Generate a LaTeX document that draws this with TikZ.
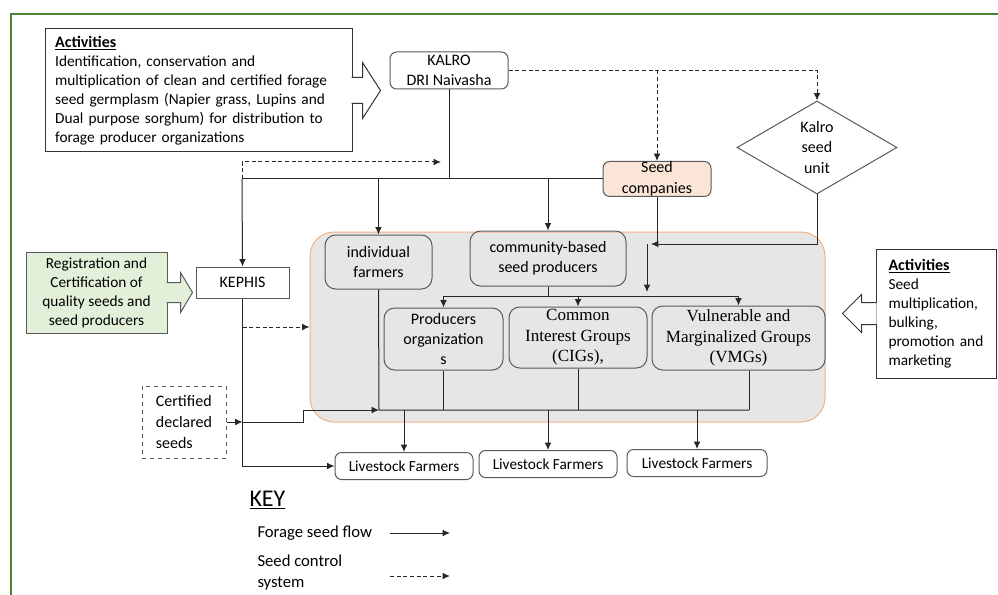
\documentclass[tikz,border=0pt]{standalone}
\usepackage{fontspec}
\setmainfont{Carlito}
\newfontfamily\tnr{Liberation Serif}
\usepackage{xcolor}
\usepackage{tikz}
\usetikzlibrary{positioning}
\usetikzlibrary{calc}
\usetikzlibrary{shapes}
\usetikzlibrary{arrows.meta}
\definecolor{framegreen}{HTML}{548235}
\definecolor{boxgray}{HTML}{595959}
\definecolor{linegray}{HTML}{262626}
\definecolor{groupfill}{HTML}{E7E6E6}
\definecolor{grouporange}{HTML}{F4B183}
\definecolor{seedfill}{HTML}{FBE5D6}
\definecolor{regfill}{HTML}{E2F0D9}
\tikzset{
  bw/.style={minimum width=#1*0.75pt},
  bh/.style={minimum height=#1*0.75pt},
  rbox/.style={draw=boxgray, rounded corners=5pt, align=center, inner sep=0pt, font=\fontsize{11.5}{14.5}\selectfont},
  sbox/.style={draw=boxgray, align=center, inner sep=0pt, font=\fontsize{11.5}{14.25}\selectfont},
  romanbox/.style={rbox, rounded corners=8pt, font=\tnr\fontsize{12.8}{15.4}\selectfont},
  flow/.style={draw=linegray, -{Latex[length=5.5pt,width=5pt]}},
  ctrl/.style={draw=linegray, dash pattern=on 3pt off 2pt, -{Latex[length=5.5pt,width=5pt]}},
  link/.style={draw=linegray},
  keytext/.style={inner sep=0pt, align=left, font=\fontsize{12.5}{16}\selectfont},
}

\begin{document}
\begin{tikzpicture}[x=0.75pt,y=-0.75pt,line width=0.75pt]
  \useasboundingbox (0,0) rectangle (998,595);
  \draw[framegreen, line width=1pt] (11,595) -- (11,14) -- (998,14);

  \node[fill=groupfill, draw=grouporange, rounded corners=18pt, bw=515, bh=190] (group) at (567.5,327) {};

  \node[sbox, draw=black!80, text width=215pt, inner xsep=7.5pt, align=left, bw=307, bh=123] (act1) at (198.5,90.5)
    {\underline{\textbf{\fontsize{12}{14.25}\selectfont Activities}}\\Identification, conservation and\\multiplication of clean and certified forage\\seed germplasm (Napier grass, Lupins and\\Dual purpose sorghum) for distribution to\\forage producer organizations};
  \draw[draw=black!80, fill=white] (act1.east) ++(-1,-13) -- ++(11,0) -- ++(0,-15) -- ++(18,28) -- ++(-18,28) -- ++(0,-15) -- ++(-11,0);

  \node[rbox, font=\fontsize{12}{15.5}\selectfont, bw=118, bh=37] (kalro) at (449,70.5) {KALRO\\DRI Naivasha};
  \node[rbox, fill=seedfill, font=\fontsize{12}{15.5}\selectfont, bw=108, bh=35] (seedco) at (657,179) {Seed\\companies};
  \node[draw=boxgray, diamond, inner sep=0pt, align=center, font=\fontsize{12}{15.5}\selectfont, bw=160, bh=93] (unit) at (817,147.5) {Kalro\\seed\\unit};

  \node[sbox, fill=regfill, bw=141, bh=81] (reg) at (96.5,292.5) {Registration and\\Certification of\\quality seeds and\\seed producers};
  \draw[draw=boxgray, fill=regfill] (reg.east) ++(-1,-10) -- ++(14,0) -- ++(0,-10) -- ++(12,20) -- ++(-12,20) -- ++(0,-10) -- ++(-14,0);
  \node[sbox, font=\fontsize{12}{15}\selectfont, bw=93, bh=31] (kephis) at (242.5,282.5) {KEPHIS};

  \node[rbox, rounded corners=8pt, font=\fontsize{12}{15}\selectfont, bw=107, bh=54] (indiv) at (378.5,262) {individual\\farmers};
  \node[rbox, rounded corners=8pt, font=\fontsize{12}{15}\selectfont, bw=156, bh=55] (cbsp) at (548,258.5) {community-based\\seed producers};
  \node[rbox, rounded corners=8pt, font=\fontsize{12}{15}\selectfont, bw=119, bh=62] (prodorg) at (443.5,339) {Producers\\organization\\s};
  \node[romanbox, bw=138, bh=61] (cig) at (578,337.5) {Common\\Interest Groups\\(CIGs),};
  \node[romanbox, bw=173, bh=64] (vmg) at (738.5,338) {Vulnerable and\\Marginalized Groups\\(VMGs)};

  \node[sbox, draw=black!80, text width=71.25pt, inner xsep=9pt, align=left, bw=120, bh=129] (act2) at (936,313.5)
    {\underline{\textbf{\fontsize{12}{14.25}\selectfont Activities}}\\Seed\\multiplication,\\bulking,\\promotion and\\marketing};
  \draw[draw=black!80, fill=white] (act2.west) ++(1,-11) -- ++(-15,0) -- ++(0,-8) -- ++(-19,19) -- ++(19,19) -- ++(0,-8) -- ++(15,0);

  \node[sbox, dashed, align=left, font=\fontsize{12}{15.75}\selectfont, bw=84, bh=72] (cert) at (184,422) {Certified\\declared\\seeds};

  \foreach \i/\x/\y/\w in {1/404/466/138, 2/548/464/138, 3/697/463/140}
    \node[rbox, bw=\w, bh=27] (lf\i) at (\x,\y) {Livestock Farmers};

  \draw[ctrl] (kalro.east) -| (unit.north);
  \draw[ctrl] (kalro.east -| seedco.north) -- (seedco.north);

  \coordinate (j1) at (242,179);
  \coordinate (kd) at (441,162);
  \draw[link] (kalro.south) -- (kalro.south |- j1);
  \draw[link] (j1) -- (seedco.west);
  \draw[ctrl] (j1) |- (kd);
  \draw[flow] (j1) -- (kephis.north);
  \draw[flow] (indiv.north |- j1) -- (indiv.north);
  \draw[flow] (cbsp.north |- j1) -- (cbsp.north);

  \coordinate (s1) at (651,244);
  \coordinate (s2) at (647,244);
  \coordinate (s3) at (647,292);
  \draw[link] (seedco.south) -- (seedco.south |- s1);
  \draw[flow] (unit.south) |- (s1);
  \draw[flow] (s2) -- (s3);

  \coordinate (t1) at (443.5,296);
  \coordinate (t2) at (738.5,296);
  \draw[link] (cbsp.south) -- (cbsp.south |- t1);
  \draw[link] (t1) -- (t2);
  \foreach \n in {prodorg,cig,vmg}
    \draw[flow] (\n.north |- t1) -- (\n.north);

  \draw[flow] (kephis.south) |- (lf1.west);
  \draw[ctrl] (kephis.south |- group.west) -- (group.west);
  \draw[flow] (cert.east) -- (kephis.south |- cert.east);

  \coordinate (b1) at (379,410);
  \coordinate (b2) at (749,410);
  \draw[flow] (kephis.south |- cert.east) -- ++(61,0) |- (b1);
  \draw[link] (indiv.south) -- (b1) -- (b2);
  \draw[link] (prodorg.south) -- (prodorg.south |- b1);
  \draw[link] (cig.south) -- (cig.south |- b1);
  \draw[link] (b2 |- vmg.south) -- (b2);
  \foreach \i in {1,2,3}
    \draw[flow] (lf\i.north |- b1) -- (lf\i.north);

  \node[inner sep=0pt, anchor=west, font=\fontsize{18}{20}\selectfont] (key) at (249,500) {\underline{KEY}};
  \node[keytext, anchor=west] (kflow) at (257,533) {Forage seed flow};
  \node[keytext, anchor=north west] (kctrl) at (257,554) {Seed control\\system};
  \coordinate (kf1) at (390,533);
  \coordinate (kf2) at (450,533);
  \coordinate (kc1) at (390,576);
  \coordinate (kc2) at (450,576);
  \draw[flow] (kf1) -- (kf2);
  \draw[ctrl] (kc1) -- (kc2);
\end{tikzpicture}
\end{document}
